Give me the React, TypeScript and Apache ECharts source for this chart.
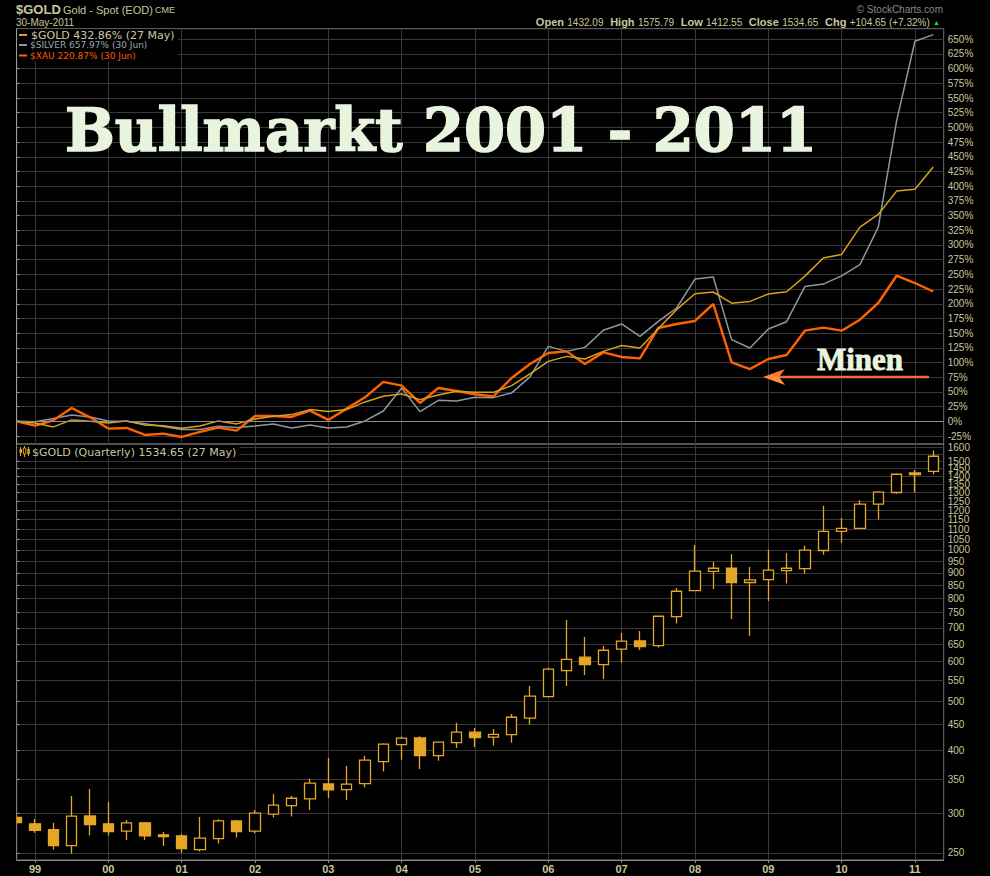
import React, { useEffect, useRef } from 'react';
import * as echarts from 'echarts';

// Quarterly data, index 0 = Q4 1998 ... index 50 = Q2 2011
const yearLabels = ['99', '00', '01', '02', '03', '04', '05', '06', '07', '08', '09', '10', '11'];
const yearTickIdx = [1, 5, 9, 13, 17, 21, 25, 29, 33, 37, 41, 45, 49];

const goldPct = [0, -2.7, -9.5, 2.4, 0, -2.7, 0.7, -6.4, -7.5, -11.9, -8, 0.7, -4.4, 4, 8.5, 11.4, 19.9, 16.5, 19.9, 33, 42.5, 46.5, 36.9, 44.8, 51, 49.3,
  49.3, 60.7, 80.6, 102, 110.5, 106, 119, 129, 124.8, 157.6, 190, 217, 220, 201, 204, 216.6, 220.5, 247, 278, 284, 330.5, 352, 391.7, 395, 432.86];
const silverPct = [0, -0.6, 4.6, 10.8, 7.4, 0.6, 0, -4, -9, -14, -14, -8.5, -10.7, -8, -4.5, -11.3, -6.2, -11.3, -9.6, 0.6, 17.6, 56.7, 16.5, 35.8, 34.6, 41,
  40.3, 48.3, 75.5, 127.5, 119, 125.8, 155, 165.6, 144.5, 170, 192.8, 242, 245.5, 139, 124.8, 157, 169.5, 229.5, 233.5, 247.5, 266.5, 330.5, 510.7, 646.7, 657.97];
const xauPct = [0, -7.3, 1.7, 22.7, 6.8, -12.4, -11.3, -23.2, -21, -26.6, -18, -10.7, -15.8, 9.1, 9.1, 7.4, 18.2, 2.4, 21.6, 40.8, 67, 60.7, 31.2, 56.7, 51.6, 46,
  42.5, 73.8, 97.6, 116.3, 119, 97.6, 117.3, 109.5, 107, 158.8, 165.6, 170.7, 199.6, 100.3, 89, 106, 112.9, 154.2, 159.3, 154.2, 172.9, 201.3, 247.7, 235.3, 220.87];

const candleOpen = [294, 285.5, 278, 258.5, 296, 285.5, 276.1, 286.8, 271.5, 270.2, 253.8, 266.9, 289.4, 276.1, 298.4, 310.4, 320.1, 342.8, 333.9, 343.2,
  379.6, 410.2, 423, 390.2, 414, 434.3, 424.4, 429.3, 463, 511, 575.6, 612, 591.3, 634.9, 659.4, 645.3, 737, 830, 906, 920,
  861.2, 872.6, 909.7, 918, 997, 1088.7, 1103.3, 1232.6, 1300, 1422, 1432.09];
const candleHigh = [296, 292, 287, 324.5, 335, 315.7, 290.7, 288, 275.2, 272.7, 294.7, 291.7, 290.7, 304.3, 327.5, 324.5, 350.8, 386, 372.2, 389.7,
  412.9, 425.6, 426.3, 416, 453.2, 442.8, 440.7, 472, 536.6, 583.5, 725.9, 671.6, 644.4, 683.9, 690.2, 740, 840.2, 1023, 946.9, 980.7,
  925, 1000.2, 986.2, 1018.6, 1223, 1157.5, 1255, 1309.7, 1420, 1441.4, 1575.79];
const candleLow = [284, 274, 254, 249, 270.6, 270.6, 265.3, 265.3, 258.1, 250, 251.5, 260.9, 268.1, 273.6, 293.8, 295.4, 304.3, 321.5, 318.4, 337,
  362.6, 382.6, 367, 380.9, 404, 406, 408.6, 414, 450, 510, 536.6, 564.4, 553.8, 597, 632.8, 640, 713.7, 828, 836.4, 729.2,
  675, 791.8, 857.2, 897.3, 977.8, 1033.6, 1100, 1148.6, 1292.5, 1300, 1412.55];
const candleClose = [287, 277, 258.5, 295.7, 284.6, 275.6, 286.8, 270.2, 269.4, 255, 267.4, 289.4, 275.6, 299.8, 311, 321, 343.9, 333.6, 342.3, 382,
  411, 422.5, 390.2, 414.8, 434.3, 423.6, 430, 465, 512, 579.3, 606, 591.3, 631.8, 658.4, 642.4, 738.1, 827.5, 907.1, 919.4, 861.2,
  871.6, 911.3, 919.4, 998.8, 1088.7, 1103.3, 1232.6, 1301.9, 1413.4, 1411, 1534.65];

const pctTicks = [-25, 0, 25, 50, 75, 100, 125, 150, 175, 200, 225, 250, 275, 300, 325, 350, 375, 400, 425, 450, 475, 500, 525, 550, 575, 600, 625, 650];
const priceTicks = [250, 300, 350, 400, 450, 500, 550, 600, 650, 700, 750, 800, 850, 900, 950, 1000, 1050, 1100, 1150, 1200, 1250, 1300, 1350, 1400, 1450, 1500, 1550, 1600];

const KHAKI = '#c9c69d';
const GRIDC = '#383838';
const GOLDC = '#d8a11c';
const SILVERC = '#8c97a2';
const XAUC = '#ff6200';
const CANDLEC = '#e3a626';
const TITLEC = '#e9f4df';
const SANS = '"Liberation Sans", Arial, sans-serif';
const DSANS = '"DejaVu Sans", Verdana, sans-serif';

function txt(x: number, y: number, text: string, font: string, fill: any, align = 'left', z = 100, extra: any = {}) {
  return {
    type: 'text', x, y, silent: true, z,
    style: { text, font, fill, align, textAlign: align, verticalAlign: 'middle', textVerticalAlign: 'middle', ...extra },
  };
}

export default function App() {
  const ref = useRef<HTMLDivElement>(null);
  useEffect(() => {
    if (!ref.current) return;
    document.body.style.margin = '0';
    document.body.style.background = '#000';
    const chart = echarts.init(ref.current, null, { renderer: 'svg' });
    const option: any = {
      animation: false,
      backgroundColor: '#000',
      grid: [
        { left: 16.7, top: 28.7, width: 927, height: 415.3, show: true, borderColor: '#707070', borderWidth: 1 },
        { left: 16.7, top: 444, width: 927, height: 416, show: true, borderColor: '#707070', borderWidth: 1 },
      ],
      xAxis: [
        {
          type: 'value', gridIndex: 0, min: 0, max: 50.57,
          axisLine: { show: false },
          axisTick: { show: false, customValues: yearTickIdx },
          axisLabel: { show: false, customValues: yearTickIdx },
          splitLine: { show: true, lineStyle: { color: GRIDC, width: 1 } },
        },
        {
          type: 'value', gridIndex: 1, min: 0, max: 50.57,
          axisLine: { show: true, lineStyle: { color: '#8c8c8c' } },
          axisTick: { show: true, length: 3, customValues: yearTickIdx, lineStyle: { color: '#8c8c8c' } },
          axisLabel: {
            customValues: yearTickIdx,
            formatter: (v: number) => yearLabels[Math.round((v - 1) / 4)] ?? '',
            color: KHAKI, fontWeight: 'bold', fontSize: 11, fontFamily: SANS, margin: 3,
          },
          splitLine: { show: true, lineStyle: { color: GRIDC, width: 1 } },
        },
      ],
      yAxis: [
        {
          type: 'value', gridIndex: 0, position: 'right', min: -38.6, max: 668,
          axisLine: { show: true, lineStyle: { color: '#9a9a9a' } },
          axisTick: { show: true, length: 3, customValues: pctTicks, lineStyle: { color: '#9a9a9a' } },
          axisLabel: {
            customValues: pctTicks, formatter: (v: number) => v + '%', showMinLabel: true, showMaxLabel: true,
            color: KHAKI, fontSize: 10, fontFamily: SANS, margin: 4,
          },
          splitLine: { show: true, lineStyle: { color: GRIDC, width: 1 } },
        },
        {
          type: 'log', logBase: 10, gridIndex: 1, position: 'right', min: 242, max: 1623,
          axisLine: { show: true, lineStyle: { color: '#9a9a9a' } },
          axisTick: { show: true, length: 3, customValues: priceTicks, lineStyle: { color: '#9a9a9a' } },
          axisLabel: {
            customValues: priceTicks, formatter: (v: number) => String(Math.round(v)), showMinLabel: true, showMaxLabel: true,
            hideOverlap: false,
            color: KHAKI, fontSize: 10, fontFamily: SANS, margin: 4,
          },
          splitLine: { show: true, lineStyle: { color: GRIDC, width: 1 } },
        },
      ],
      series: [
        {
          type: 'line', name: '$SILVER', xAxisIndex: 0, yAxisIndex: 0, symbol: 'none',
          data: silverPct.map((v, i) => [i, v]),
          lineStyle: { color: SILVERC, width: 1.5 },
          markLine: {
            silent: true, symbol: ['none', 'none'], label: { show: false },
            lineStyle: { color: '#8e8e8e', width: 1, type: 'solid' },
            data: [{ yAxis: 0 }],
          },
        },
        {
          type: 'line', name: '$XAU', xAxisIndex: 0, yAxisIndex: 0, symbol: 'none',
          data: xauPct.map((v, i) => [i, v]),
          lineStyle: { color: XAUC, width: 2.4 },
        },
        {
          type: 'line', name: '$GOLD', xAxisIndex: 0, yAxisIndex: 0, symbol: 'none',
          data: goldPct.map((v, i) => [i, v]),
          lineStyle: { color: GOLDC, width: 1.5 },
        },
        {
          type: 'candlestick', name: 'Gold quarterly', xAxisIndex: 1, yAxisIndex: 1, clip: true,
          data: candleOpen.map((o, i) => [i, o, candleClose[i], candleLow[i], candleHigh[i]]),
          encode: { x: 0, y: [1, 2, 3, 4] },
          barWidth: 11,
          itemStyle: {
            color: '#000', color0: CANDLEC, borderColor: CANDLEC, borderColor0: CANDLEC,
            borderColorDoji: CANDLEC, borderWidth: 1.3,
          },
        },
      ],
      graphic: [
        // mask left of the plot area (candles are clipped at the panel edge)
        { type: 'rect', z: 80, silent: true, shape: { x: 0, y: 444, width: 16.2, height: 432 }, style: { fill: '#000' } },
        // header
        txt(16, 9, '$GOLD', `bold 13px ${SANS}`, KHAKI),
        txt(63, 9.5, 'Gold - Spot (EOD)', `11px ${SANS}`, KHAKI),
        txt(155, 10, 'CME', `9px ${SANS}`, KHAKI),
        txt(16, 22.5, '30-May-2011', `10px ${SANS}`, KHAKI),
        txt(943, 9.5, '\u00A9 StockCharts.com', `10px ${SANS}`, '#8a8a8a', 'right'),
        {
          type: 'text', x: 940, y: 22, z: 100, silent: true,
          style: {
            text: '{b|Open} {v|1432.09}  {b|High} {v|1575.79}  {b|Low} {v|1412.55}  {b|Close} {v|1534.65}  {b|Chg} {v|+104.65 (+7.32%)} {g|\u25B2}',
            align: 'right', textAlign: 'right', verticalAlign: 'middle', textVerticalAlign: 'middle',
            rich: {
              b: { font: `bold 11px ${SANS}`, fill: KHAKI, color: KHAKI },
              v: { font: `10px ${SANS}`, fill: KHAKI, color: KHAKI },
              g: { font: `7px ${SANS}`, fill: '#2fdc2f', color: '#2fdc2f' },
            },
          },
        },
        // top legend
        { type: 'rect', z: 90, silent: true, shape: { x: 17.3, y: 29.3, width: 161, height: 32 }, style: { fill: '#000' } },
        { type: 'line', z: 100, silent: true, shape: { x1: 19, y1: 35, x2: 27, y2: 35 }, style: { stroke: GOLDC, lineWidth: 2 } },
        { type: 'line', z: 100, silent: true, shape: { x1: 19, y1: 45, x2: 27, y2: 45 }, style: { stroke: SILVERC, lineWidth: 2 } },
        { type: 'line', z: 100, silent: true, shape: { x1: 19, y1: 55.5, x2: 27, y2: 55.5 }, style: { stroke: XAUC, lineWidth: 2 } },
        txt(31, 35, '$GOLD 432.86% (27 May)', `11px ${DSANS}`, '#cfc7a0'),
        txt(30, 45, '$SILVER 657.97% (30 Jun)', `9px ${DSANS}`, '#9ba6b2'),
        txt(30, 55.5, '$XAU 220.87% (30 Jun)', `9px ${DSANS}`, '#ff5a00'),
        // lower legend
        { type: 'rect', z: 90, silent: true, shape: { x: 17.3, y: 445, width: 222, height: 13 }, style: { fill: '#000' } },
        { type: 'line', z: 100, silent: true, shape: { x1: 20.5, y1: 447, x2: 20.5, y2: 456 }, style: { stroke: CANDLEC, lineWidth: 1 } },
        { type: 'rect', z: 100, silent: true, shape: { x: 19.5, y: 449, width: 2.5, height: 4 }, style: { fill: CANDLEC } },
        { type: 'line', z: 100, silent: true, shape: { x1: 24.5, y1: 446, x2: 24.5, y2: 457 }, style: { stroke: CANDLEC, lineWidth: 1 } },
        { type: 'rect', z: 100, silent: true, shape: { x: 23.3, y: 448, width: 2.5, height: 6 }, style: { fill: '#000', stroke: CANDLEC, lineWidth: 1 } },
        { type: 'line', z: 100, silent: true, shape: { x1: 28.5, y1: 447, x2: 28.5, y2: 456 }, style: { stroke: CANDLEC, lineWidth: 1 } },
        { type: 'rect', z: 100, silent: true, shape: { x: 27.3, y: 449, width: 2.5, height: 5 }, style: { fill: CANDLEC } },
        txt(32, 452, '$GOLD (Quarterly) 1534.65 (27 May)', `11px ${DSANS}`, KHAKI),
        // title
        txt(65, 130, 'Bullmarkt 2001 - 2011', `bold 59px "DejaVu Serif", serif`, TITLEC, 'left', 110,
          { stroke: TITLEC, lineWidth: 1.6 }),
        // Minen annotation
        txt(860, 359, 'Minen', `bold 31px "Liberation Serif", serif`, TITLEC, 'center', 110,
          { stroke: TITLEC, lineWidth: 0.8 }),
        { type: 'line', z: 110, silent: true, shape: { x1: 929, y1: 377, x2: 778, y2: 377 }, style: { stroke: '#f26a3c', lineWidth: 2.5 } },
        {
          type: 'polygon', z: 111, silent: true,
          shape: { points: [[763, 377], [785, 369], [779, 377], [785, 385]] },
          style: {
            fill: new echarts.graphic.LinearGradient(0, 0, 0, 1, [
              { offset: 0, color: '#ff6a3a' },
              { offset: 1, color: '#ffa53a' },
            ]),
          },
        },
      ],
    };
    chart.setOption(option);
    return () => chart.dispose();
  }, []);
  return <div ref={ref} style={{ position: 'fixed', left: 0, top: 0, width: 990, height: 876, background: '#000' }} />;
}
